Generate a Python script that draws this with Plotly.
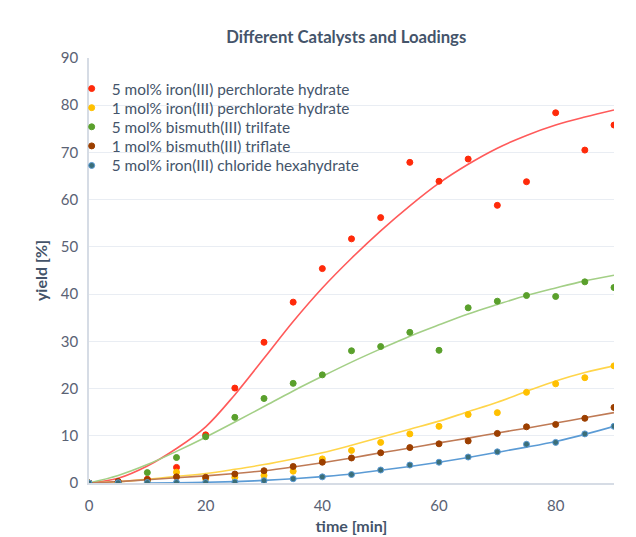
import plotly.graph_objects as go

time_min = [0, 5, 10, 15, 20, 25, 30, 35, 40, 45, 50, 55, 60, 65, 70, 75, 80, 85, 90]

series_names = [
    "5 mol% iron(III) perchlorate hydrate",
    "1 mol% iron(III) perchlorate hydrate",
    "5 mol% bismuth(III) trilfate",
    "1 mol% bismuth(III) triflate",
    "5 mol% iron(III) chloride hexahydrate",
]

fe_perchlorate_5 = [0, 0.3, 0.8, 3.3, 10.2, 20.1, 29.8, 38.3, 45.4, 51.7, 56.2, 67.9, 63.9, 68.6, 58.8, 63.8, 78.4, 70.5, 75.8]
fe_perchlorate_1 = [0, 0.1, 0.4, 2.3, 0.9, 1.2, 1.6, 2.5, 5.1, 6.9, 8.6, 10.4, 12.0, 14.5, 14.9, 19.2, 21.0, 22.3, 24.8]
bi_triflate_5 = [0, 0.2, 2.2, 5.4, 9.8, 13.9, 17.9, 21.1, 22.9, 28.0, 28.9, 31.9, 28.1, 37.1, 38.5, 39.7, 39.5, 42.6, 41.4]
bi_triflate_1 = [0, 0.3, 0.7, 1.3, 1.2, 1.9, 2.6, 3.5, 4.4, 5.3, 6.4, 7.5, 8.3, 8.9, 10.5, 11.9, 12.4, 13.7, 16.0]
fe_chloride_5 = [0, 0.05, 0.1, 0.1, 0.1, 0.2, 0.5, 0.9, 1.3, 1.8, 2.75, 3.8, 4.4, 5.5, 6.6, 8.2, 8.6, 10.4, 12.0]

# trend lines
trend_time = [0, 5, 10, 15, 20, 25, 30, 35, 40, 45, 50, 55, 60, 65, 70, 75, 80, 85, 90]
trend_fe_perchlorate_5 = [0, 1.0, 3.6, 7.3, 11.9, 18.7, 26.4, 34.2, 41.3, 47.6, 53.4, 58.7, 63.5, 67.5, 70.9, 73.6, 75.8, 77.5, 79.0]
trend_fe_perchlorate_1 = [0, 0.3, 0.8, 1.4, 2.0, 2.9, 3.9, 5.1, 6.4, 8.0, 9.7, 11.4, 13.1, 15.1, 17.1, 19.4, 21.6, 23.4, 24.8]
trend_bi_triflate_5 = [0, 1.6, 3.9, 6.7, 9.7, 12.9, 16.2, 19.5, 22.6, 25.6, 28.4, 31.1, 33.5, 35.8, 37.8, 39.7, 41.3, 42.8, 44.0]
trend_bi_triflate_1 = [0, 0.3, 0.7, 1.1, 1.5, 2.0, 2.6, 3.4, 4.3, 5.3, 6.4, 7.4, 8.5, 9.5, 10.6, 11.6, 12.7, 13.8, 14.9]
trend_time_cl = [10, 15, 20, 25, 30, 35, 40, 45, 50, 55, 60, 65, 70, 75, 80, 85, 90]
trend_fe_chloride_5 = [0, 0.05, 0.15, 0.3, 0.55, 0.9, 1.35, 1.9, 2.7, 3.5, 4.4, 5.4, 6.5, 7.6, 8.8, 10.3, 12.0]

marker_colors = ["#FF2A0A", "#FFC000", "#5AA02C", "#9C3F00", "#3B6E78"]
marker_lines = ["#FF2A0A", "#FFC000", "#5AA02C", "#9C3F00", "#5B9BD5"]
line_colors = ["#FF5A5A", "#FFD54A", "#A3CF86", "#BF7A55", "#5B9BD5"]

values = [fe_perchlorate_5, fe_perchlorate_1, bi_triflate_5, bi_triflate_1, fe_chloride_5]
trends = [
    (trend_time, trend_fe_perchlorate_5),
    (trend_time, trend_fe_perchlorate_1),
    (trend_time, trend_bi_triflate_5),
    (trend_time, trend_bi_triflate_1),
    (trend_time_cl, trend_fe_chloride_5),
]

FONT = "Lato"
TXT = "#44546A"
TICK = "#5A6274"

fig = go.Figure()
for (tx, ty), lc in zip(trends, line_colors):
    fig.add_trace(go.Scatter(x=tx, y=ty, mode="lines", line=dict(color=lc, width=1.6, shape="spline"),
                             showlegend=False, hoverinfo="skip"))

legend_ids = ["legend", "legend2", "legend3", "legend4", "legend5"]
for name, vals, mc, ml, lid in zip(series_names, values, marker_colors, marker_lines, legend_ids):
    fig.add_trace(go.Scatter(x=time_min, y=vals, mode="markers", name=name, legend=lid,
                             marker=dict(color=mc, size=6, line=dict(color=ml, width=1))))

# one legend box per row so that row spacing follows the reference
row_y = [0.927, 0.882, 0.837, 0.792, 0.746]
legend_layout = {}
for lid, ry in zip(legend_ids, row_y):
    legend_layout[lid] = dict(x=-0.033, xanchor="left", y=ry, yanchor="middle", bgcolor="rgba(0,0,0,0)",
                              font=dict(family=FONT, size=15.4, color=TXT), itemwidth=30)

fig.update_layout(
    width=636, height=537,
    margin=dict(l=81, r=30, t=50, b=62),
    paper_bgcolor="white", plot_bgcolor="white",
    font=dict(family=FONT, color=TXT),
    title=dict(text="<b>Different Catalysts and Loadings</b>", x=0.49, xanchor="center",
               xref="paper", y=0.946, yanchor="middle", font=dict(family=FONT, size=16.7, color=TXT)),
    showlegend=True,
    **legend_layout,
)
fig.update_xaxes(range=[0, 90], tickvals=[0, 20, 40, 60, 80], showgrid=False, zeroline=False,
                 showline=True, linecolor="#D6DCE5", linewidth=1.5,
                 ticks="outside", ticklen=8, tickcolor="rgba(0,0,0,0)",
                 tickfont=dict(family=FONT, size=15, color=TICK),
                 title=dict(text="<b>time [min]</b>", font=dict(family=FONT, size=16, color=TXT), standoff=8))
fig.update_yaxes(range=[0, 90], dtick=10, showgrid=True, gridcolor="#E9EDF3", gridwidth=1, zeroline=False,
                 showline=True, linecolor="#D6DCE5", linewidth=1.5,
                 ticks="outside", ticklen=6, tickcolor="rgba(0,0,0,0)",
                 tickfont=dict(family=FONT, size=15, color=TICK),
                 title=dict(text="<b>yield [%]</b>", font=dict(family=FONT, size=16, color=TXT), standoff=9))

fig.write_html("out.html")
